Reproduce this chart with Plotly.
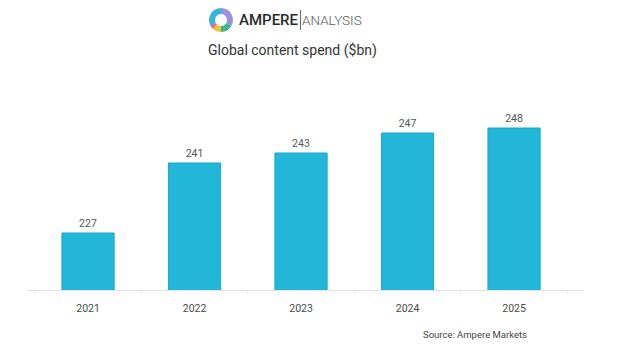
import plotly.graph_objects as go

# Global content spend, $bn
years = ["2021", "2022", "2023", "2024", "2025"]
spend = [227, 241, 243, 247, 248]

# Brand ring segments (clockwise from 12 o'clock)
ring_share = [33, 17, 12, 5, 33]
ring_colors = ["#9d8ee3", "#3fb58c", "#f4c141", "#e85a9c", "#33b7d6"]

W, H = 620, 349
FONT = "Roboto"

fig = go.Figure()

fig.add_trace(go.Bar(
    x=years,
    y=spend,
    width=0.49,
    marker=dict(color="#22b6d9", line=dict(color="#1ba6c9", width=1)),
    text=[str(v) for v in spend],
    textposition="outside",
    textfont=dict(family=FONT, size=10.5, color="#555555"),
    cliponaxis=False,
    showlegend=False,
    hoverinfo="skip",
))

# logo ring
fig.add_trace(go.Pie(
    values=ring_share,
    marker=dict(colors=ring_colors, line=dict(width=0)),
    hole=0.5,
    sort=False,
    direction="clockwise",
    textinfo="none",
    showlegend=False,
    hoverinfo="skip",
    domain=dict(x=[209 / W, 233 / W], y=[(H - 32) / H, (H - 8) / H]),
))

fig.update_layout(
    width=W,
    height=H,
    margin=dict(l=0, r=0, t=0, b=0),
    paper_bgcolor="white",
    plot_bgcolor="white",
    bargap=0.5,
    xaxis=dict(
        domain=[27 / W, 584 / W],
        range=[-0.573, 4.657],
        type="category",
        showgrid=False,
        showline=True,
        linecolor="#e3e3e3",
        linewidth=1,
        ticks="outside",
        tickson="boundaries",
        ticklen=4,
        tickcolor="#ececec",
        ticklabelstandoff=8,
        tickfont=dict(family=FONT, size=10.5, color="#4a4a4a"),
        fixedrange=True,
    ),
    yaxis=dict(
        domain=[(H - 290) / H, (H - 110) / H],
        range=[215.6, 251.6],
        visible=False,
        fixedrange=True,
    ),
    shapes=[
        # divider between the two words of the logo
        dict(type="line", xref="paper", yref="paper",
             x0=300.5 / W, x1=300.5 / W, y0=(H - 30) / H, y1=(H - 10) / H,
             line=dict(color="#6a6a6a", width=1)),
    ],
    annotations=[
        dict(text="Global content spend ($bn)", x=292 / W, y=(H - 50) / H,
             xref="paper", yref="paper", xanchor="center", yanchor="middle",
             showarrow=False, font=dict(family=FONT, size=14, color="#333333")),
        dict(text="AMPERE", x=237 / W, y=(H - 20) / H,
             xref="paper", yref="paper", xanchor="left", yanchor="middle",
             showarrow=False,
             font=dict(family=FONT, size=15, color="#2b2b2b", weight=500)),
        dict(text="ANALYSIS", x=300 / W, y=(H - 20) / H,
             xref="paper", yref="paper", xanchor="left", yanchor="middle",
             showarrow=False,
             font=dict(family=FONT, size=13.5, color="#5a5a5a", weight=300)),
        dict(text="Source: Ampere Markets", x=421 / W, y=(H - 334) / H,
             xref="paper", yref="paper", xanchor="left", yanchor="middle",
             showarrow=False, font=dict(family=FONT, size=9.5, color="#444444")),
    ],
)

fig.write_html("out.html")
